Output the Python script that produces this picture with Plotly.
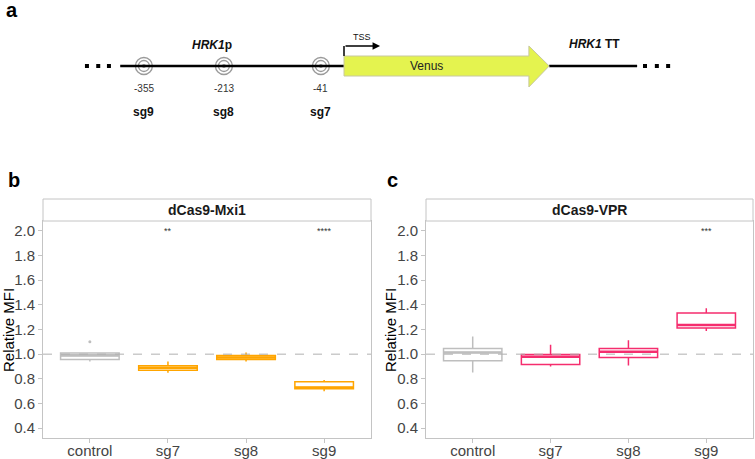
import plotly.graph_objects as go

W, H = 755, 459

# ---------------- data ----------------
categories = ["control", "sg7", "sg8", "sg9"]

mxi1_q1 = [0.957, 0.869, 0.957, 0.720]
mxi1_median = [0.990, 0.890, 0.973, 0.730]
mxi1_q3 = [1.010, 0.907, 0.990, 0.776]
mxi1_low = [0.940, 0.850, 0.940, 0.700]
mxi1_high = [1.010, 0.940, 1.013, 0.790]
mxi1_outlier_cat = [0]
mxi1_outlier_val = [1.10]
mxi1_sig = ["", "**", "", "****"]

vpr_q1 = [0.947, 0.917, 0.973, 1.213]
vpr_median = [1.013, 0.979, 1.019, 1.237]
vpr_q3 = [1.045, 0.997, 1.045, 1.333]
vpr_low = [0.851, 0.899, 0.909, 1.187]
vpr_high = [1.144, 1.077, 1.112, 1.373]
vpr_sig = ["", "", "", "***"]

# construct diagram (bp relative to TSS)
site_names = ["sg9", "sg8", "sg7"]
site_pos = [-355, -213, -41]
promoter_start = -397
venus_end_body = 328
venus_tip = 364
terminator_end = 520
left_dots = [-456, -436, -417]
right_dots = [534, 555, 575]

GREY = "#bebebe"
ORANGE = "#ffa500"
PINK = "#f52d6e"
AXC = "#c4c4c4"
FONT = "Liberation Sans"

fig = go.Figure()

panels = [
    dict(xa="x", ya="y", q1=mxi1_q1, med=mxi1_median, q3=mxi1_q3, lo=mxi1_low,
         hi=mxi1_high, col=ORANGE, sig=mxi1_sig, title="dCas9-Mxi1", ytitle_x=8),
    dict(xa="x2", ya="y2", q1=vpr_q1, med=vpr_median, q3=vpr_q3, lo=vpr_low,
         hi=vpr_high, col=PINK, sig=vpr_sig, title="dCas9-VPR", ytitle_x=390),
]

annotations = []
shapes = []
for p in panels:
    for i, cat in enumerate(categories):
        c = GREY if i == 0 else p["col"]
        fig.add_trace(go.Box(
            x=[i], q1=[p["q1"][i]], median=[p["med"][i]], q3=[p["q3"][i]],
            lowerfence=[p["lo"][i]], upperfence=[p["hi"][i]],
            width=0.75, whiskerwidth=0, fillcolor="white",
            line=dict(color=c, width=1.5), boxpoints=False,
            xaxis=p["xa"], yaxis=p["ya"], showlegend=False, hoverinfo="skip"))
        fig.add_trace(go.Scatter(
            x=[i - 0.375, i + 0.375], y=[p["med"][i], p["med"][i]],
            mode="lines", line=dict(color=c, width=2.6),
            xaxis=p["xa"], yaxis=p["ya"], showlegend=False, hoverinfo="skip"))
        if p["sig"][i]:
            annotations.append(dict(x=i, y=2.0, xref=p["xa"], yref=p["ya"],
                                    text=p["sig"][i], showarrow=False,
                                    font=dict(size=9, color="#333333", family=FONT)))
    # dashed reference
    shapes.append(dict(type="line", xref=p["xa"] + " domain", yref=p["ya"],
                       x0=0, x1=1, y0=1, y1=1, layer="above",
                       line=dict(color="#b0b0b0", width=1, dash="dash")))
    # strip
    shapes.append(dict(type="rect", xref=p["xa"] + " domain", yref=p["ya"] + " domain",
                       x0=0, x1=1, y0=1, y1=1 + 22 / 217, fillcolor="white",
                       line=dict(color=AXC, width=1)))
    annotations.append(dict(x=0.5, y=1 + 11 / 217, xref=p["xa"] + " domain",
                            yref=p["ya"] + " domain", text="<b>" + p["title"] + "</b>",
                            xanchor="center", yanchor="middle",
                            showarrow=False, font=dict(size=14, color="#1a1a1a", family=FONT)))
    annotations.append(dict(x=p["ytitle_x"] / W, y=1 - 330 / H, xref="paper", yref="paper",
                            text="Relative MFI", textangle=-90, showarrow=False,
                            xanchor="center", yanchor="middle",
                            font=dict(size=15, color="black", family=FONT)))

fig.add_trace(go.Scatter(x=mxi1_outlier_cat, y=mxi1_outlier_val, mode="markers",
                         marker=dict(color=GREY, size=3), xaxis="x", yaxis="y",
                         showlegend=False, hoverinfo="skip"))

# ---------------- diagram (x3: bp, y3: pixels from top) ----------------
DY = 66
shapes.append(dict(type="line", xref="x3", yref="y3", x0=promoter_start, x1=0,
                   y0=DY, y1=DY, line=dict(color="black", width=2.5)))
shapes.append(dict(type="line", xref="x3", yref="y3", x0=venus_tip, x1=terminator_end,
                   y0=DY, y1=DY, line=dict(color="black", width=2.5)))
shapes.append(dict(type="path", xref="x3", yref="y3",
                   path=f"M 0,56 L {venus_end_body},56 L {venus_end_body},46 L {venus_tip},{DY} "
                        f"L {venus_end_body},87 L {venus_end_body},76 L 0,76 Z",
                   fillcolor="#e4f34f", line=dict(color="#c8c8a0", width=1)))
shapes.append(dict(type="line", xref="x3", yref="y3", x0=0, x1=0, y0=56, y1=46,
                   line=dict(color="black", width=1.5)))
annotations.append(dict(x=64, y=46, ax=0, ay=46, xref="x3", yref="y3", axref="x3",
                        ayref="y3", text="", showarrow=True, arrowhead=2, arrowsize=1,
                        arrowwidth=1.5, arrowcolor="black"))

fig.add_trace(go.Scatter(x=left_dots + right_dots, y=[DY] * 6, mode="markers",
                         marker=dict(symbol="square", size=4, color="black"),
                         xaxis="x3", yaxis="y3", showlegend=False, hoverinfo="skip"))
for sz, sym, lw in [(17, "circle-open", 1.3), (11, "circle-open", 1.3), (4, "circle", 0)]:
    fig.add_trace(go.Scatter(x=site_pos, y=[DY] * 3, mode="markers",
                             marker=dict(symbol=sym, size=sz, color="#9a9a9a",
                                         line=dict(width=lw, color="#9a9a9a")),
                             xaxis="x3", yaxis="y3", showlegend=False, hoverinfo="skip"))
for name, pos in zip(site_names, site_pos):
    annotations.append(dict(x=pos, y=88, xref="x3", yref="y3", text=str(pos),
                            showarrow=False, font=dict(size=10, color="#333333", family=FONT)))
    annotations.append(dict(x=pos, y=112, xref="x3", yref="y3", text="<b>" + name + "</b>",
                            showarrow=False, font=dict(size=12, color="#111111", family=FONT)))

annotations += [
    dict(x=-234, y=45, xref="x3", yref="y3", text="<b><i>HRK1</i>p</b>", showarrow=False,
         font=dict(size=12, color="#111111", family=FONT)),
    dict(x=445, y=44, xref="x3", yref="y3", text="<b><i>HRK1</i> TT</b>", showarrow=False,
         font=dict(size=12, color="#111111", family=FONT)),
    dict(x=147, y=66, xref="x3", yref="y3", text="Venus", showarrow=False,
         font=dict(size=12, color="#222222", family=FONT)),
    dict(x=32, y=37, xref="x3", yref="y3", text="TSS", showarrow=False,
         font=dict(size=9, color="#111111", family=FONT)),
]
for letter, lx, ly in [("a", 12, 10), ("b", 14, 180), ("c", 392, 180)]:
    annotations.append(dict(x=lx / W, y=1 - ly / H, xref="paper", yref="paper",
                            text="<b>" + letter + "</b>", xanchor="center", yanchor="middle",
                            showarrow=False, font=dict(size=20, color="black", family=FONT)))

def xax(dom, anchor):
    return dict(domain=dom, anchor=anchor, range=[-0.6, 3.6], tickvals=list(range(4)),
                ticktext=categories, showline=True, mirror=True, linecolor=AXC, linewidth=1,
                ticks="outside", ticklen=4, tickcolor=AXC, showgrid=False, zeroline=False,
                automargin=False, fixedrange=True, ticklabelstandoff=-5,
                tickfont=dict(size=15, color="#444444", family=FONT))

def yax(anchor):
    return dict(domain=[1 - 438 / H, 1 - 221 / H], anchor=anchor, range=[0.32, 2.08],
                tickvals=[0.4, 0.6, 0.8, 1.0, 1.2, 1.4, 1.6, 1.8, 2.0], tickformat=".1f",
                showline=True, mirror=True, linecolor=AXC, linewidth=1, ticks="outside",
                ticklen=4, tickcolor=AXC, showgrid=False, zeroline=False,
                automargin=False, fixedrange=True,
                tickfont=dict(size=15, color="#444444", family=FONT))

fig.update_layout(
    width=W, height=H, margin=dict(l=0, r=0, t=0, b=0, autoexpand=False),
    paper_bgcolor="white", plot_bgcolor="rgba(0,0,0,0)",
    boxmode="overlay", showlegend=False,
    font=dict(family=FONT),
    xaxis=xax([43 / W, 371 / W], "y"), yaxis=yax("x"),
    xaxis2=xax([426 / W, 753 / W], "y2"), yaxis2=yax("x2"),
    xaxis3=dict(domain=[0, 1], anchor="y3", range=[-344 / 0.5637, (W - 344) / 0.5637],
                visible=False, fixedrange=True, automargin=False),
    yaxis3=dict(domain=[1 - 130 / H, 1], anchor="x3", range=[130, 0], visible=False,
                fixedrange=True, automargin=False),
    shapes=shapes, annotations=annotations,
)

fig.write_html("out.html", config={"displayModeBar": False},
               post_script="document.body.style.margin='0';")
